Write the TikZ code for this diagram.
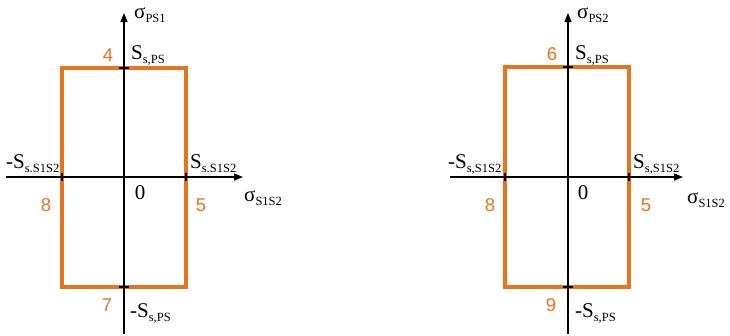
\documentclass[tikz,border=0pt]{standalone}
\usepackage{fontspec}
\setmainfont{Liberation Serif}
\newfontfamily\digitfont{Liberation Sans}
\usetikzlibrary{arrows.meta}
\definecolor{rorange}{RGB}{230,116,30}
\newcommand{\mysub}[1]{\raisebox{-4pt}{\fontsize{12.5}{13}\selectfont #1}}
\tikzset{
  axis/.style={line width=1.4pt, black, -{Triangle[length=9pt,width=7pt]}},
  region/.style={line width=3.2pt, rorange},
  tick/.style={line width=1.1pt, black},
  lbl/.style={inner sep=0pt, anchor=base west, font=\fontsize{21}{24}\selectfont},
  num/.style={inner sep=0pt, text=rorange, font=\digitfont\fontsize{18.5}{21}\selectfont},
  zero/.style={inner sep=0pt, font=\fontsize{21}{24}\selectfont},
}
\begin{document}
\begin{tikzpicture}[x=1pt,y=-1pt]
\useasboundingbox (0,0) rectangle (730,335);
% ---------- left panel ----------
\coordinate (Lvb) at (124,334);
\coordinate (Lvt) at (124,13);
\coordinate (Lhl) at (6,177);
\coordinate (Lhr) at (243,177);
\coordinate (Lr1) at (62,68);
\coordinate (Lr2) at (186,287);
\draw[region] (Lr1) rectangle (Lr2);
\draw[axis] (Lvb) -- (Lvt);
\draw[axis] (Lhl) -- (Lhr);
\coordinate (Lt1a) at (119,68); \coordinate (Lt1b) at (129,68);
\coordinate (Lt2a) at (119,287); \coordinate (Lt2b) at (129,287);
\coordinate (Lt3a) at (62,173); \coordinate (Lt3b) at (62,181);
\coordinate (Lt4a) at (186,173); \coordinate (Lt4b) at (186,181);
\draw[tick] (Lt1a) -- (Lt1b);
\draw[tick] (Lt2a) -- (Lt2b);
\draw[tick] (Lt3a) -- (Lt3b);
\draw[tick] (Lt4a) -- (Lt4b);
\node[lbl] (Lsy) at (134,18) {σ\mysub{PS1}};
\node[lbl] (Lst) at (131,59) {S\mysub{s,PS}};
\node[lbl] (Lsb) at (130,317) {-S\mysub{s,PS}};
\node[lbl] (Lsl) at (6,168) {-S\mysub{s.S1S2}};
\node[lbl] (Lsr) at (190,168) {S\mysub{s.S1S2}};
\node[lbl] (Lsx) at (244,201) {σ\mysub{S1S2}};
\node[zero] (L0) at (140,193) {0};
\node[num] (L4) at (108,55) {4};
\node[num] (L8) at (46,205) {8};
\node[num] (L5) at (201,205) {5};
\node[num] (L7) at (107,305) {7};
% ---------- right panel ----------
\coordinate (Rvb) at (568,334);
\coordinate (Rvt) at (568,13);
\coordinate (Rhl) at (450,177);
\coordinate (Rhr) at (683,177);
\coordinate (Rr1) at (505,67);
\coordinate (Rr2) at (629,287);
\draw[region] (Rr1) rectangle (Rr2);
\draw[axis] (Rvb) -- (Rvt);
\draw[axis] (Rhl) -- (Rhr);
\coordinate (Rt1a) at (563,67); \coordinate (Rt1b) at (573,67);
\coordinate (Rt2a) at (563,287); \coordinate (Rt2b) at (573,287);
\coordinate (Rt3a) at (505,173); \coordinate (Rt3b) at (505,181);
\coordinate (Rt4a) at (629,173); \coordinate (Rt4b) at (629,181);
\draw[tick] (Rt1a) -- (Rt1b);
\draw[tick] (Rt2a) -- (Rt2b);
\draw[tick] (Rt3a) -- (Rt3b);
\draw[tick] (Rt4a) -- (Rt4b);
\node[lbl] (Rsy) at (577,18) {σ\mysub{PS2}};
\node[lbl] (Rst) at (575,59) {S\mysub{s,PS}};
\node[lbl] (Rsb) at (575,317) {-S\mysub{s,PS}};
\node[lbl] (Rsl) at (448,168) {-S\mysub{s,S1S2}};
\node[lbl] (Rsr) at (633,168) {S\mysub{s,S1S2}};
\node[lbl] (Rsx) at (687,203) {σ\mysub{S1S2}};
\node[zero] (R0) at (583,193) {0};
\node[num] (R6) at (552,54) {6};
\node[num] (R8) at (490,205) {8};
\node[num] (R5) at (646,205) {5};
\node[num] (R9) at (551,305) {9};
\end{tikzpicture}
\end{document}
